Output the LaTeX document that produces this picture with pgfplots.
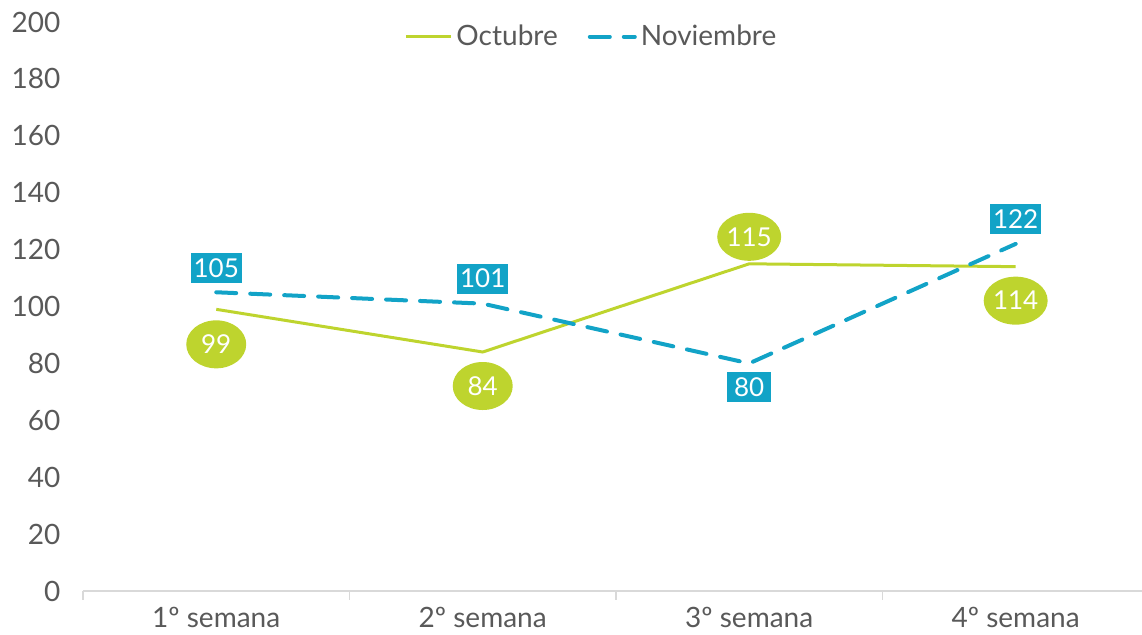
\documentclass[border=0pt]{standalone}
\usepackage{fontspec}
\setmainfont{Lato}
\usepackage{pgfplots}
\pgfplotsset{compat=1.18}
\usetikzlibrary{shapes.geometric}
\definecolor{verde}{RGB}{190,212,46}
\definecolor{azul}{RGB}{18,163,199}
\definecolor{texto}{RGB}{89,89,89}
\definecolor{eje}{RGB}{217,217,217}

\begin{document}
\begin{tikzpicture}
\begin{axis}[
  name=ax,
  scale only axis,
  width=529.5pt, height=284.5pt,
  xmin=-0.5, xmax=3.474,
  ymin=0, ymax=200,
  ytick={0,20,...,200},
  xtick={0,1,2,3},
  xticklabels={1º semana,2º semana,3º semana,4º semana},
  minor xtick={-0.5,0.5,1.5,2.5},
  axis x line*=bottom,
  axis y line*=left,
  y axis line style={draw=none},
  x axis line style={eje, line width=0.75pt},
  major tick length=0pt,
  minor tick length=4.5pt,
  tick align=outside,
  minor tick style={eje, line width=0.75pt},
  ticklabel style={font=\fontsize{14}{16}\selectfont, text=texto},
  yticklabel style={anchor=east, xshift=-7.8pt},
  xticklabel style={yshift=-4.8pt},
  /pgf/number format/assume math mode=true,
  legend style={at={(0.481,0.974)}, anchor=center, draw=none, fill=none,
    legend columns=2, font=\fontsize{14}{16}\selectfont, text=texto,
    /tikz/every even column/.append style={column sep=13pt}},
  legend image code/.code={\draw[#1] (0pt,0pt) -- (22.5pt,0pt);},
  clip=false,
]
\addplot[verde, line width=1.5pt, nodes near coords,
  visualization depends on={value \thisrow{dy}\as\dy},
  every node near coord/.append style={ellipse, fill=verde, text=white,
    minimum width=30pt, minimum height=24pt, inner sep=0pt, anchor=center,
    yshift=\dy pt, font=\fontsize{13}{15}\selectfont}]
  table[x=x,y=y]{
x y dy
0 99 -17.5
1 84 -17
2 115 13.5
3 114 -17
};
\addplot[azul, line width=2pt, line cap=round, dash pattern=on 10pt off 7pt,
  nodes near coords,
  visualization depends on={value \thisrow{dy}\as\dy},
  every node near coord/.append style={rectangle, fill=azul, text=white,
    minimum width=22pt, minimum height=15pt, inner sep=1.5pt, anchor=center,
    yshift=\dy pt, font=\fontsize{13}{15}\selectfont, solid}]
  table[x=x,y=y]{
x y dy
0 105 12
1 101 12.5
2 80 -12
3 122 12.5
};
\legend{Octubre,Noviembre}
\end{axis}
\pgfresetboundingbox
\path ([xshift=-41.5pt,yshift=-22pt]ax.south west) rectangle ([yshift=11pt]ax.north east);
\end{tikzpicture}
\end{document}
